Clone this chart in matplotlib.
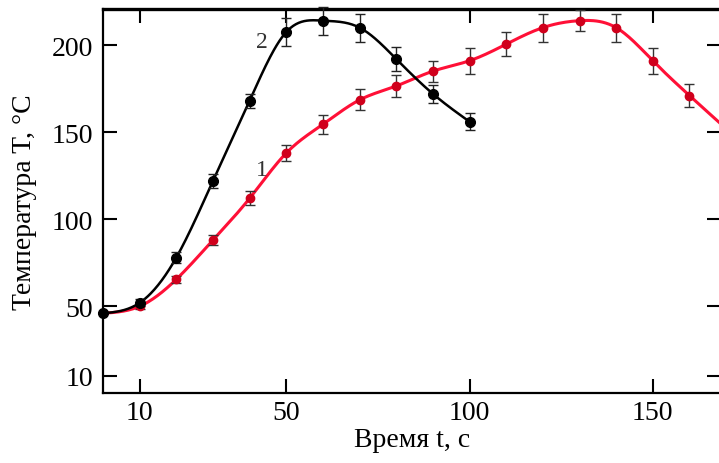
import numpy as np
import matplotlib
matplotlib.use("Agg")
import matplotlib.pyplot as plt

# ---- data ----
t2 = [0, 10, 20, 30, 40, 50, 60, 70, 80, 90, 100]
T2 = [46, 52, 78, 122, 168, 207.5, 214, 210, 192, 172, 156]
e2 = [0, 2, 3, 4, 4, 8, 8, 8, 7, 5, 5]

t1 = [0, 10, 20, 30, 40, 50, 60, 70, 80, 90, 100, 110, 120, 130, 140, 150, 160]
T1 = [46, 50, 65.5, 88, 112, 138, 154.5, 168.5, 176.5, 185, 191, 200.5, 210, 214, 210, 191, 171]
e1 = [0, 1.5, 2, 3, 4, 4.5, 5.5, 6, 6.5, 6, 7.5, 7, 8, 6, 8, 7.5, 6.5]
# curve 1 continues past the right edge of the frame
t1_tail = [170]
T1_tail = [152]

xticks = [10, 50, 100, 150]
yticks = [10, 50, 100, 150, 200]
xlabel = "Время t, с"
ylabel = "Температура T, °C"


def natural_spline(x, y, n=400):
    x = np.asarray(x, float)
    y = np.asarray(y, float)
    m = len(x)
    h = np.diff(x)
    A = np.zeros((m, m))
    b = np.zeros(m)
    A[0, 0] = 1
    A[-1, -1] = 1
    for i in range(1, m - 1):
        A[i, i - 1] = h[i - 1]
        A[i, i] = 2 * (h[i - 1] + h[i])
        A[i, i + 1] = h[i]
        b[i] = 6 * ((y[i + 1] - y[i]) / h[i] - (y[i] - y[i - 1]) / h[i - 1])
    M = np.linalg.solve(A, b)
    xs = np.linspace(x[0], x[-1], n)
    idx = np.clip(np.searchsorted(x, xs) - 1, 0, m - 2)
    x0, x1 = x[idx], x[idx + 1]
    hh = x1 - x0
    a = (x1 - xs) / hh
    bb = (xs - x0) / hh
    ys = (a * y[idx] + bb * y[idx + 1]
          + ((a ** 3 - a) * M[idx] + (bb ** 3 - bb) * M[idx + 1]) * hh ** 2 / 6)
    return xs, ys


plt.rcParams['font.family'] = ['Liberation Serif', 'DejaVu Serif']
FS = 20

fig = plt.figure(figsize=(7.19, 4.64), dpi=100)
W, H = 719, 464
ax = fig.add_axes([103 / W, (H - 394.4) / H, (721 - 103) / W, (394.4 - 10) / H])

red_line = '#ff1037'
red_mark = '#d0001c'

xs1, ys1 = natural_spline(t1 + t1_tail, T1 + T1_tail)
ax.plot(xs1, ys1, color=red_line, lw=2.2, zorder=2)
ax.errorbar(t1, T1, yerr=e1, fmt='o', ms=6, color=red_mark, ecolor='#333333',
            elinewidth=1.0, capsize=3.5, capthick=1.0, zorder=3, clip_on=False)

xs2, ys2 = natural_spline(t2, T2)
ax.plot(xs2, ys2, color='black', lw=1.8, zorder=4)
ax.errorbar(t2, T2, yerr=e2, fmt='o', ms=7, color='black', ecolor='#222222',
            elinewidth=1.0, capsize=3.5, capthick=1.0, zorder=5, clip_on=False)

ax.text(43.3, 202.3, "2", fontsize=17, ha='center', va='center', color='#333333')
ax.text(43.3, 128.8, "1", fontsize=17, ha='center', va='center', color='#333333')

ax.set_xlim(0, 168.6)
ax.set_ylim(0, 220.7)
ax.set_xticks(xticks)
ax.set_yticks(yticks)
ax.tick_params(direction='in', length=10, width=1.5, labelsize=FS, pad=7,
               top=True, right=True, colors='black')
ax.tick_params(axis='x', pad=5)
for s in ['left', 'bottom', 'right']:
    ax.spines[s].set_linewidth(1.6)
ax.spines['top'].set_linewidth(2.4)

ax.set_xlabel(xlabel, fontsize=FS)
ax.set_ylabel(ylabel, fontsize=FS)
ax.xaxis.set_label_coords(0.5, -0.088)
ax.yaxis.set_label_coords(-0.106, 0.5)

fig.savefig("out.png", dpi=100)
